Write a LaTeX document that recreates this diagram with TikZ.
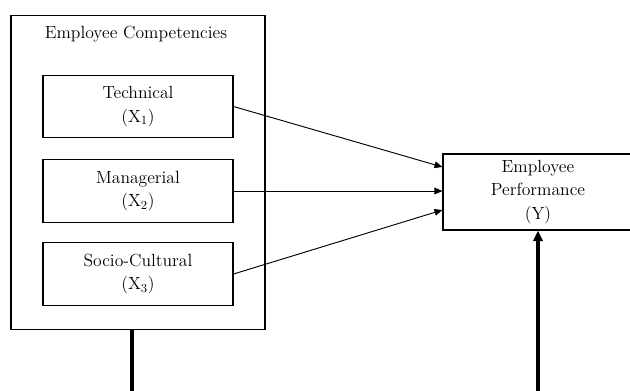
\documentclass[tikz,border=0pt]{standalone}
\usepackage{tikz}
\usetikzlibrary{arrows.meta, positioning, calc}
\tikzset{
  frame/.style={draw, line width=0.8pt, inner sep=0pt},
  varbox/.style={frame, minimum width=142.5pt, minimum height=47pt, align=center},
  link/.style={-{Triangle[length=6pt, width=5pt]}, line width=0.7pt},
  heavy/.style={line width=2.4pt},
}

\begin{document}
\begin{tikzpicture}[x=0.75pt, y=-0.75pt, font=\fontsize{13.2}{17.5}\selectfont]
  \useasboundingbox (0,0) rectangle (630,390);
  % competencies block
  \node[frame, minimum width=190.5pt, minimum height=236pt] (comp) at (138,172.5) {};
  \node (comptitle) at (136,34) {Employee Competencies};
  \node[varbox] (tech) at (138,106.5) {Technical\\(X\textsubscript{1})};
  \node[varbox] (mgr)  at (138,191)   {Managerial\\(X\textsubscript{2})};
  \node[varbox] (soc)  at (138,274)   {Socio-Cultural\\(X\textsubscript{3})};
  % performance
  \node[frame, minimum width=142.5pt, minimum height=57pt, align=center] (perf) at (538,192)
    {Employee\\Performance\\(Y)};
  % arrows into Y
  \draw[link] (tech.east) -- ($(perf.west)+(0,-25)$);
  \draw[link] (mgr.east)  -- (perf.west |- mgr.east);
  \draw[link] (soc.east)  -- ($(perf.west)+(0,18)$);
  % heavy lines to the bottom
  \coordinate (lowA) at (132,392);
  \coordinate (lowB) at (538,392);
  \draw[heavy] (comp.south -| lowA) -- (lowA);
  \draw[heavy, -{Triangle[length=8pt, width=7pt]}] (lowB) -- (perf.south);
\end{tikzpicture}
\end{document}
